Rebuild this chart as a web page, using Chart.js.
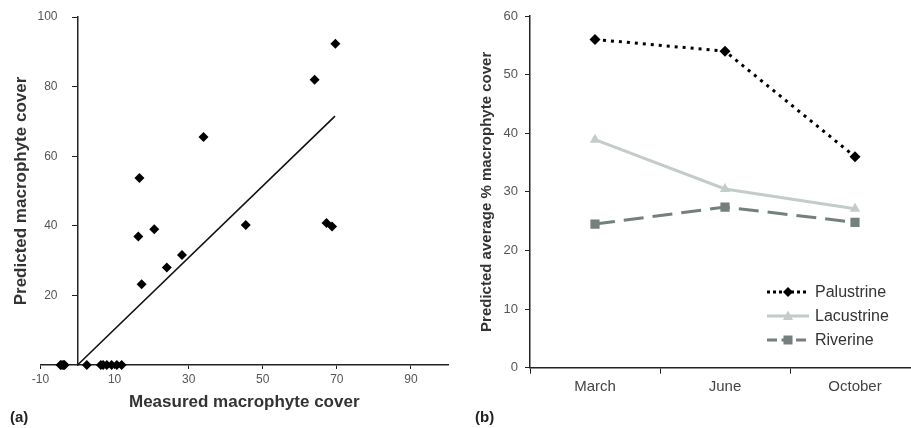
<!DOCTYPE html>
<html>
<head>
<meta charset="utf-8">
<script src="https://cdn.jsdelivr.net/npm/chart.js@4.4.0/dist/chart.umd.min.js"></script>
<style>
  html, body { margin: 0; padding: 0; background: #fff; overflow: hidden; width: 911px; height: 428px; }
  #wrap { position: relative; width: 911px; height: 428px; overflow: hidden; }
  #left { position: absolute; left: 0; top: 0; }
  #right { position: absolute; left: 460px; top: 0; }
  .panel { position: absolute; font: bold 15px Arial, "Liberation Sans", sans-serif; color: #222; }
  #legend { position: absolute; left: 767px; top: 280px; font: 16px Arial, "Liberation Sans", sans-serif; color: #333; }
  #legend div { height: 24px; display: flex; align-items: center; }
  #legend canvas { margin-right: 6px; }
</style>
</head>
<body>
<div id="wrap">
  <canvas id="left" width="460" height="428"></canvas>
  <canvas id="right" width="480" height="428"></canvas>
  <div class="panel" style="left:10px;top:408px">(a)</div>
  <div class="panel" style="left:475px;top:408px">(b)</div>
  <div id="legend"></div>
</div>
<script>
// panel (a) - measured vs predicted cover
var measured  = [69.6, 64.0, 34.0, 16.7, 16.4, 20.7, 17.3, 24.1, 28.2, 45.4, 67.2, 68.7,
                 -4.6, -4.2, -3.8, -3.5, 2.5, 6.3, 6.9, 7.9, 9.2, 10.6, 11.9];
var predicted = [92.3, 82.0, 65.5, 53.7, 36.9, 39.0, 23.2, 28.0, 31.6, 40.2, 40.8, 39.8,
                 0, 0, 0, 0, 0, 0, 0, 0, 0, 0, 0];
var fitX = [0, 69.5];
var fitY = [0, 71.5];
var xTicksA = [-10, 10, 30, 50, 70, 90];
var yTicksA = [20, 40, 60, 80, 100];

// panel (b) - seasonal averages
var months = ['March', 'June', 'October'];
var palustrine = [56, 54, 36];
var lacustrine = [38.9, 30.5, 27.1];
var riverine = [24.5, 27.4, 24.8];

Chart.defaults.font.family = 'Arial, "Liberation Sans", sans-serif';

var scatterPts = measured.map(function(v, i) { return {x: v, y: predicted[i]}; });
var fitPts = fitX.map(function(v, i) { return {x: v, y: fitY[i]}; });

new Chart(document.getElementById('left'), {
  type: 'scatter',
  data: {
    datasets: [{
      data: scatterPts,
      pointStyle: 'rectRot',
      pointRadius: 5,
      backgroundColor: '#000',
      borderColor: '#000',
      borderWidth: 0,
      clip: false
    }, {
      data: fitPts,
      showLine: true,
      borderColor: '#111',
      borderWidth: 1.6,
      pointRadius: 0,
      clip: false
    }]
  },
  options: {
    responsive: false,
    animation: false,
    layout: { padding: { top: 17, right: 12, bottom: 11, left: 0 } },
    plugins: { legend: { display: false }, tooltip: { enabled: false } },
    scales: {
      x: {
        type: 'linear', min: -10, max: 100, position: 'bottom',
        afterBuildTicks: function(s) { s.ticks = xTicksA.map(function(v) { return {value: v}; }); },
        afterFit: function(s) { s.height = 52; },
        grid: { drawOnChartArea: false, tickLength: 4, color: '#222' },
        border: { color: '#222', width: 1.5 },
        ticks: { color: '#555', font: { size: 12 }, padding: 3, maxRotation: 0, autoSkip: false },
        title: { display: true, text: 'Measured macrophyte cover', color: '#333',
                 font: { size: 17, weight: 'bold' }, padding: { top: 4, bottom: 4 } }
      },
      y: {
        // axis crosses at x = 0; labels sit on the axis so pad them with spaces
        type: 'linear', min: 0, max: 100, position: { x: 0 },
        afterBuildTicks: function(s) { s.ticks = yTicksA.map(function(v) { return {value: v}; }); },
        grid: { drawOnChartArea: false, tickLength: 5, color: '#222' },
        border: { color: '#222', width: 1.5 },
        ticks: { color: '#555', font: { size: 12 },
                 callback: function(v) { return v + '      '; } }
      },
      yt: {
        type: 'linear', position: 'left',
        afterFit: function(s) { s.width = 40.5; },
        grid: { display: false }, border: { display: false }, ticks: { display: false },
        title: { display: true, text: 'Predicted macrophyte cover', color: '#333',
                 font: { size: 17, weight: 'bold' }, padding: { top: 11, bottom: 0 } }
      }
    }
  }
});

var rightChart = new Chart(document.getElementById('right'), {
  type: 'line',
  data: {
    labels: months,
    datasets: [{
      label: 'Palustrine', data: palustrine,
      borderColor: '#000', backgroundColor: '#000', borderWidth: 3, borderDash: [3, 5],
      pointStyle: 'rectRot', pointRadius: 5.5, pointBorderWidth: 0
    }, {
      label: 'Lacustrine', data: lacustrine,
      borderColor: '#c3cccb', backgroundColor: '#c3cccb', borderWidth: 3,
      pointStyle: 'triangle', pointRadius: 6, pointBorderWidth: 0
    }, {
      label: 'Riverine', data: riverine,
      borderColor: '#74807e', backgroundColor: '#74807e', borderWidth: 3, borderDash: [20, 9],
      pointStyle: 'rect', pointRadius: 6.5, pointBorderWidth: 0
    }]
  },
  options: {
    responsive: false,
    animation: false,
    layout: { padding: { top: 16, right: 20, bottom: 0, left: 0 } },
    plugins: { legend: { display: false }, tooltip: { enabled: false } },
    scales: {
      x: {
        offset: true,
        afterFit: function(s) { s.height = 60.3; },
        grid: { offset: true, drawOnChartArea: false, tickLength: 6, color: '#222' },
        border: { color: '#222', width: 1.5 },
        ticks: { color: '#444', font: { size: 15 }, padding: 4 }
      },
      y: {
        min: 0, max: 60,
        afterFit: function(s) { s.width = 70; },
        grid: { drawOnChartArea: false, tickLength: 5, color: '#222' },
        border: { color: '#222', width: 1.5 },
        ticks: { stepSize: 10, color: '#555', font: { size: 13 }, padding: 7 },
        title: { display: true, text: 'Predicted average % macrophyte cover', color: '#333',
                 font: { size: 15, weight: 'bold' }, padding: { top: 18, bottom: 0 } }
      }
    }
  }
});

// html legend with a line + marker swatch per series
function swatch(ds) {
  var c = document.createElement('canvas');
  c.width = 42; c.height = 14;
  var g = c.getContext('2d');
  g.strokeStyle = ds.borderColor;
  g.lineWidth = 3;
  g.setLineDash(ds.borderDash ? [ds.borderDash[0] / 2, ds.borderDash[1] / 2] : []);
  if (ds.label === 'Palustrine') g.setLineDash([3, 3]);
  g.beginPath(); g.moveTo(0, 7); g.lineTo(42, 7); g.stroke();
  g.fillStyle = ds.backgroundColor;
  g.beginPath();
  if (ds.pointStyle === 'rectRot') {
    g.moveTo(21, 2); g.lineTo(26, 7); g.lineTo(21, 12); g.lineTo(16, 7);
  } else if (ds.pointStyle === 'triangle') {
    g.moveTo(21, 1.5); g.lineTo(26, 11); g.lineTo(16, 11);
  } else {
    g.rect(16.5, 2.5, 9, 9);
  }
  g.closePath(); g.fill();
  return c;
}

var legend = document.getElementById('legend');
rightChart.data.datasets.forEach(function(ds) {
  var row = document.createElement('div');
  row.appendChild(swatch(ds));
  row.appendChild(document.createTextNode(ds.label));
  legend.appendChild(row);
});
</script>
</body>
</html>
